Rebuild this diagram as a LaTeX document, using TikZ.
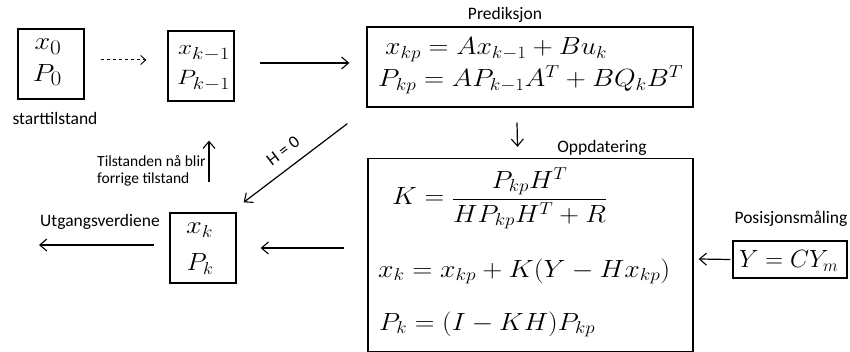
\documentclass[tikz,border=0pt]{standalone}
\usepackage{fontspec}
\usepackage{graphicx}
\setsansfont{Carlito}
\usetikzlibrary{arrows.meta,calc}
\DeclareMathSizes{22}{22}{16.5}{12.5}
\DeclareMathSizes{23}{23}{17.5}{13}
\DeclareMathSizes{25}{25}{19}{14}
\DeclareMathSizes{26}{26}{19.5}{14.5}
\newcommand{\fw}[2]{\resizebox{#1}{\height}{$#2$}}
\begin{document}
\begin{tikzpicture}[x=1pt,y=-1pt,
  box/.style={draw,line width=1.3pt,inner sep=0pt},
  lbl/.style={font=\sffamily\fontsize{17.5}{21}\selectfont,inner sep=0pt},
  mth/.style={inner sep=0pt,font=\fontsize{#1}{#1}\selectfont},
  mth/.default=25,
  arr/.style={line width=1.2pt,-{Straight Barb[length=7pt,width=12pt,line width=1.1pt]}}]
\useasboundingbox (0,0) rectangle (850,352);
% start state
\node[box,minimum width=66pt,minimum height=70pt] (b0) at (51,64) {};
\node[mth=26] (x0) at (48,47) {\fw{27pt}{x_0}};
\node[mth=26] (p0) at (47.5,75) {\fw{29pt}{P_0}};
\node[lbl] (st) at (55,118) {starttilstand};
% previous state
\node[box,minimum width=66pt,minimum height=70pt] (b1) at (201,66) {};
\node[mth=22,anchor=base west] (x1) at (178,55) {\fw{52pt}{x_{k-1}}};
\node[mth=22,anchor=base west] (p1) at (177,85) {\fw{53pt}{P_{k-1}}};
\draw[line width=1pt,dashed,-{Straight Barb[length=5pt,width=9pt,line width=0.9pt]}] ($(b0.east)+(16,-4)$) -- ($(b1.west)+(-21,-6)$);
% prediction
\node[box,minimum width=326pt,minimum height=80pt] (pred) at (530,67) {};
\node[lbl] (predl) at (505,15) {Prediksjon};
\node[mth,anchor=base west] (f1) at (385,55) {\fw{222pt}{x_{kp}=Ax_{k-1}+Bu_k}};
\node[mth,anchor=base west] (f2) at (378,87) {\fw{305pt}{P_{kp}=AP_{k-1}A^T+BQ_kB^T}};
% update
\node[box,minimum width=325pt,minimum height=193pt] (upd) at (530.5,255) {};
\node[lbl] (updl) at (602,148) {Oppdatering};
\node[mth,anchor=base west] (g1) at (392,205) {\resizebox{215pt}{\height}{$\displaystyle K=\frac{P_{kp}H^T}{HP_{kp}H^T+R}$}};
\node[mth,anchor=base west] (g2) at (378,277) {\fw{292pt}{x_k=x_{kp}+K(Y-Hx_{kp})}};
\node[mth,anchor=base west] (g3) at (379,330) {\fw{216pt}{P_k=(I-KH)P_{kp}}};
% measurement
\node[box,minimum width=114pt,minimum height=37pt] (meas) at (790,259.5) {};
\node[mth=23,anchor=base west] (y) at (739,268) {\fw{99pt}{Y=CY_m}};
\node[lbl] (measl) at (791,219) {Posisjonsmåling};
% current state
\node[box,minimum width=66pt,minimum height=70pt] (b2) at (203,248) {};
\node[mth] (xk) at (199.5,230) {\fw{27pt}{x_k}};
\node[mth] (pk) at (200,264) {\fw{27pt}{P_k}};
\node[lbl] (outl) at (100,222) {Utgangsverdiene};
\coordinate (out) at (39,245);
\node[lbl,font=\sffamily\fontsize{15.5}{17}\selectfont,align=left,anchor=west] (tl) at (97,170.5) {Tilstanden nå blir\\forrige tilstand};
% arrows
\draw[arr] ($(b1.east)+(25,-3)$) -- ($(pred.west)+(-17,-4)$);
\draw[arr] ($(pred.south)+(-13,15)$) -- ($(upd.north)+(-13,-11)$);
\draw[arr] ($(meas.west)+(-2,0)$) -- ($(upd.east)+(5,4)$);
\draw[arr] ($(upd.west)+(-23,-7)$) -- ($(b2.east)+(24,0)$);
\draw[arr] ($(b2.west)+(-15,-3)$) -- (out);
\draw[arr] ($(pred.south west)+(-19,16)$) -- node[lbl,sloped,above=11pt,pos=0.52] {H = 0} ($(b2.north east)+(7,-10)$);
\draw[arr] ($(b1.south)+(8,80)$) -- ($(b1.south)+(8,39)$);
\end{tikzpicture}
\end{document}
